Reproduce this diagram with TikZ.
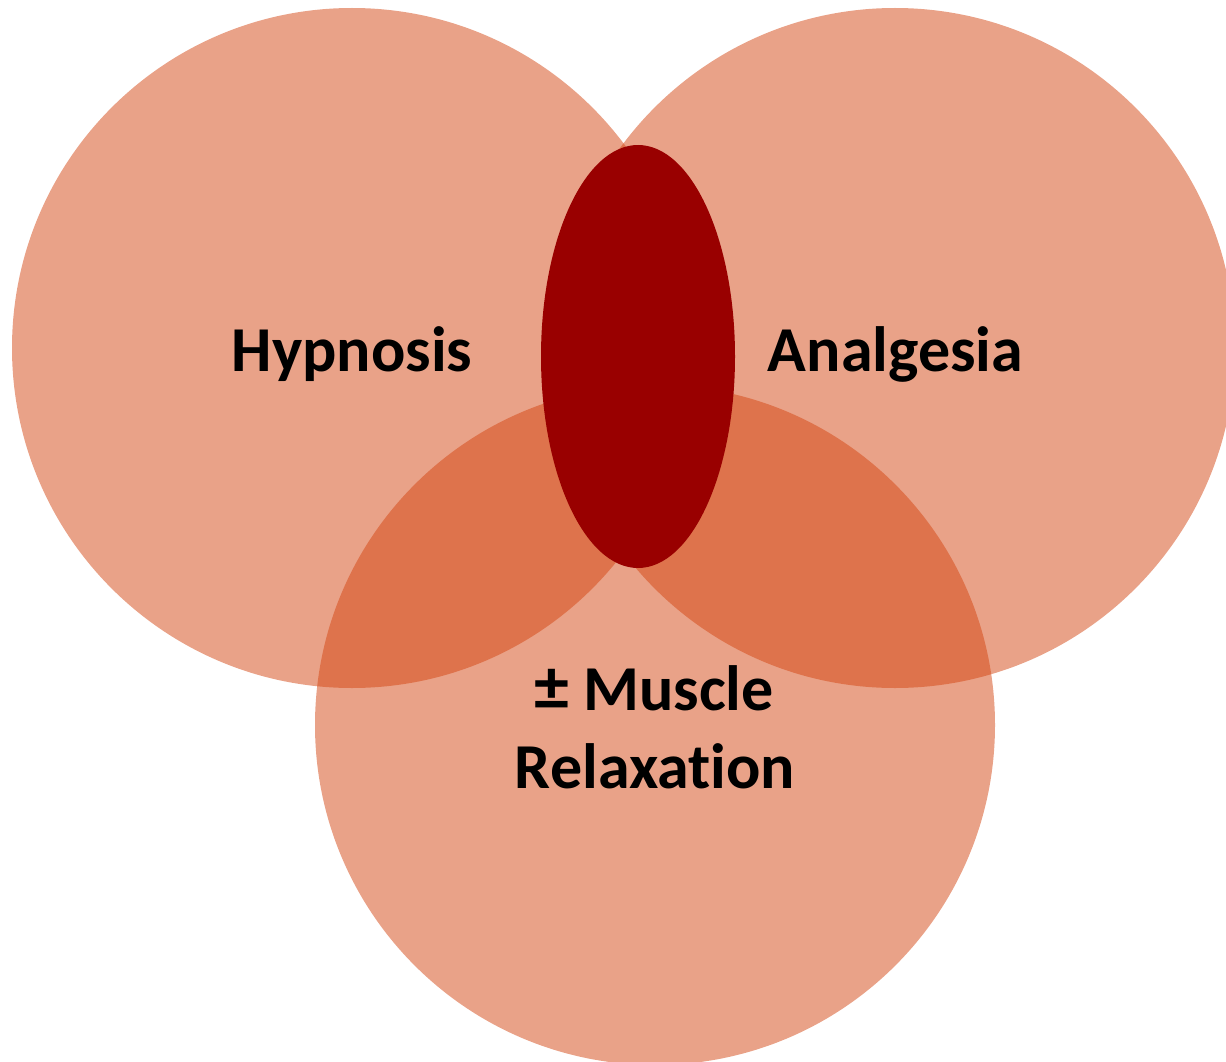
\documentclass[tikz,border=0pt]{standalone}
\usepackage{fontspec}
\setmainfont[Ligatures=NoCommon]{Carlito}
\definecolor{venn}{RGB}{211,69,17}
\definecolor{core}{RGB}{153,0,0}
\tikzset{
  vcircle/.style={fill=venn, fill opacity=0.5},
  lbl/.style={anchor=base, inner sep=0pt, text=black, font=\fontsize{64}{78}\selectfont\bfseries}
}
\begin{document}
\begin{tikzpicture}[x=1pt,y=-1pt]
\useasboundingbox (0,0) rectangle (1226,1062);
\begin{scope}
\clip (0,0) rectangle (1226,1062);
\fill[vcircle] (352,348) circle[radius=340];
\fill[vcircle] (895,348) circle[radius=340];
\fill[vcircle] (655,725) circle[radius=340];
\fill[core] (638,356.5) ellipse[x radius=97, y radius=211.5];
\end{scope}
\node[lbl] (hyp) at (352,371) {Hypnosis};
\node[lbl] (ana) at (895.5,371) {Analgesia};
\node[lbl] (mus) at (654,710) {{\fontsize{70}{78}\selectfont ±}\ Muscle};
\node[lbl] (rel) at (655,788) {Relaxation};
\end{tikzpicture}
\end{document}
